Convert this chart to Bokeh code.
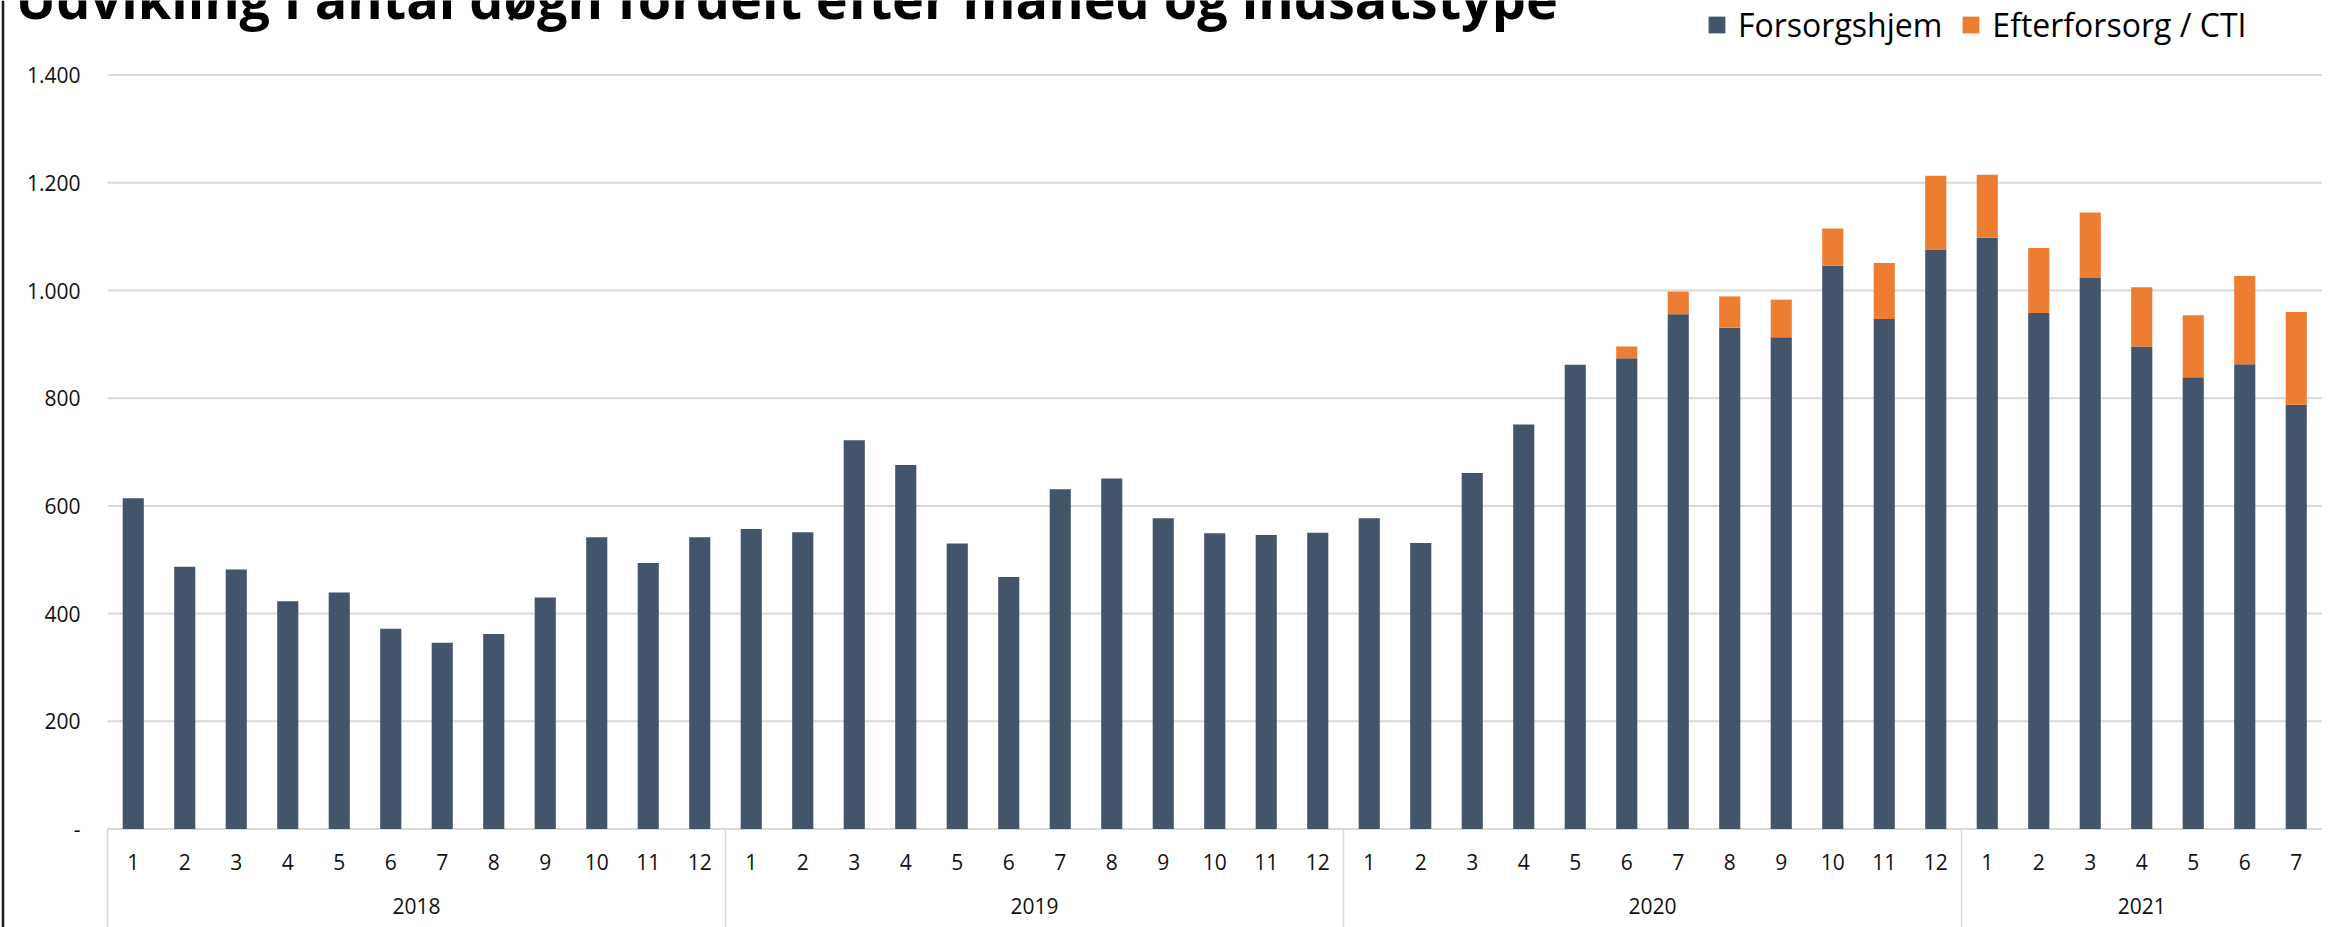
from bokeh.plotting import figure
from bokeh.models import (ColumnDataSource, Range1d, FixedTicker,
                          Legend, LegendItem, Label)
from bokeh.core.properties import value
from bokeh.embed import file_html
from bokeh.resources import INLINE

# ---------------- data ----------------
title_text = "Udvikling i antal døgn fordelt efter måned og indsatstype"
years = ["2018", "2019", "2020", "2021"]
months_per_year = [12, 12, 12, 7]
series_names = ["Forsorgshjem", "Efterforsorg / CTI"]
series_colors = ["#44546A", "#ED7D31"]

forsorgshjem = [
    614, 487, 482, 423, 439, 372, 346, 362, 430, 542, 494, 542,   # 2018
    557, 551, 722, 676, 530, 468, 631, 651, 577, 549, 546, 550,   # 2019
    577, 531, 661, 751, 862, 874, 956, 931, 913, 1046, 947, 1076,  # 2020
    1098, 958, 1023, 896, 839, 863, 788,                          # 2021
]
efterforsorg_cti = [
    0, 0, 0, 0, 0, 0, 0, 0, 0, 0, 0, 0,                           # 2018
    0, 0, 0, 0, 0, 0, 0, 0, 0, 0, 0, 0,                           # 2019
    0, 0, 0, 0, 0, 22, 42, 58, 70, 69, 104, 137,                  # 2020
    117, 121, 122, 110, 115, 164, 172,                            # 2021
]
y_ticks = [0, 200, 400, 600, 800, 1000, 1200, 1400]
y_tick_labels = ["-", "200", "400", "600", "800", "1.000", "1.200", "1.400"]

# ---------------- derived ----------------
months = [str(m) for n in months_per_year for m in range(1, n + 1)]
n_cat = len(months)
xpos = [i + 0.5 for i in range(n_cat)]
bounds, centers = [], []
acc = 0
for n in months_per_year:
    bounds.append(acc)
    centers.append(acc + n / 2)
    acc += n

src = ColumnDataSource(dict(x=xpos, month=months,
                            fors=forsorgshjem, efter=efterforsorg_cti))
ysrc = ColumnDataSource(dict(x=centers, label=years))

W, H = 2333, 927
# layout geometry (pixels)
plot_left, cat_px = 107.0, 51.5
zero_px, px_per_unit = 828.5, 107.7 / 200.0

x_start = -plot_left / cat_px
x_end = (W - plot_left) / cat_px
y_end = zero_px / px_per_unit
y_start = -(H - zero_px) / px_per_unit

p = figure(width=W, height=H, output_backend="svg", toolbar_location=None,
           x_range=Range1d(x_start, x_end), y_range=Range1d(y_start, y_end),
           x_axis_location=None, y_axis_location="left",
           min_border_left=0, min_border_right=0, min_border_top=0,
           min_border_bottom=0)
p.outline_line_color = None
p.background_fill_color = "white"
p.border_fill_color = "white"

# y axis, drawn at the left edge of the category area
ticker = FixedTicker(ticks=y_ticks)
p.yaxis.fixed_location = 0
p.yaxis.ticker = ticker
p.yaxis.major_label_overrides = dict(zip(y_ticks, y_tick_labels))
p.yaxis.axis_line_color = None
p.yaxis.major_tick_line_color = None
p.yaxis.minor_tick_line_color = None
p.yaxis.major_tick_out = 0
p.yaxis.major_tick_in = 0
p.yaxis.major_label_standoff = 27
p.yaxis.major_label_text_font = "Open Sans"
p.yaxis.major_label_text_font_size = "21px"
p.yaxis.major_label_text_color = "#111111"
p.yaxis.bounds = (0, y_ticks[-1])

p.grid.visible = False

# chart-area border on the far left
border_x = (2.5 - plot_left) / cat_px
p.segment(x0=[border_x], y0=[y_start], x1=[border_x], y1=[y_end],
          line_color="#1a1a1a", line_width=2.5)

# horizontal gridlines across the category area
p.segment(x0=[0] * len(y_ticks), y0=y_ticks, x1=[n_cat] * len(y_ticks), y1=y_ticks,
          line_color="#d9d9d9", line_width=2)

# bars
renderers = p.vbar_stack(["fors", "efter"], x="x", width=0.41,
                         color=series_colors, source=src, line_width=0)

# category separators under the axis
p.segment(x0=bounds, y0=[0] * len(bounds), x1=bounds, y1=[y_start] * len(bounds),
          line_color="#d9d9d9", line_width=1.5)

# month labels and year labels
p.text(x="x", y=-61, text="month", source=src, text_align="center",
       text_baseline="middle", text_font=value("Open Sans"),
       text_font_size="21px", text_color="#111111")
p.text(x="x", y=-143, text="label", source=ysrc, text_align="center",
       text_baseline="middle", text_font=value("Open Sans"),
       text_font_size="21px", text_color="#111111")

# title (top partly cut off, as in reference)
p.add_layout(Label(x=15, y=H + 2.5, x_units="screen", y_units="screen",
                   text=title_text, text_font="Open Sans", text_font_style="bold",
                   text_font_size="54px", text_baseline="alphabetic",
                   text_align="left", text_color="black"))

# legend
legend = Legend(items=[LegendItem(label=series_names[i], renderers=[renderers[i]])
                       for i in range(2)],
                orientation="horizontal", location=(1706, H - 46),
                border_line_color=None, background_fill_alpha=0,
                padding=0, margin=0, spacing=18, label_standoff=11,
                glyph_width=21, glyph_height=21,
                label_text_font="Open Sans", label_text_font_size="32px",
                label_text_color="#000000")
p.add_layout(legend)

open("out.html", "w").write(file_html(p, INLINE))
